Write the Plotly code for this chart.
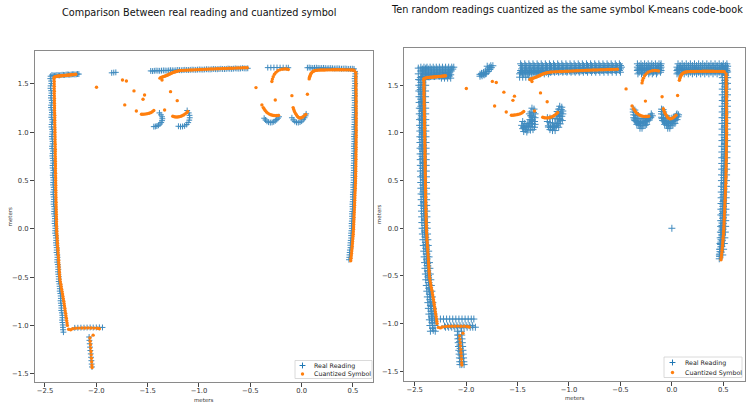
import plotly.graph_objects as go

# ---------------- data (metres) ----------------
# Single real reading (left panel)
REAL_WALL_L_Y = [1.58,1.53,1.48,1.43,1.38,1.33,1.28,1.23,1.18,1.13,1.08,1.03,0.98,0.93,0.88,0.83,0.78,0.73,0.68,0.63,
                 0.58,0.53,0.48,0.43,0.38,0.33,0.28,0.23,0.18,0.13,0.08,0.03,-0.02,-0.07,-0.12,-0.17,-0.22,-0.27,-0.32,-0.37,
                 -0.42,-0.47,-0.52,-0.57,-0.62,-0.67,-0.72,-0.77,-0.82,-0.87,-0.92,-0.97,-1.02,-1.07]
REAL_WALL_L_X = [-2.445,-2.44,-2.445,-2.44,-2.44,-2.435,-2.44,-2.435,-2.435,-2.43,-2.435,-2.43,-2.43,-2.43,-2.425,-2.43,-2.425,-2.425,-2.42,-2.425,
                 -2.42,-2.42,-2.42,-2.415,-2.42,-2.415,-2.415,-2.41,-2.41,-2.405,-2.405,-2.40,-2.40,-2.395,-2.39,-2.39,-2.385,-2.38,-2.38,-2.375,
                 -2.37,-2.37,-2.365,-2.36,-2.355,-2.35,-2.345,-2.345,-2.34,-2.335,-2.33,-2.33,-2.325,-2.32]
REAL_WALL_L2_Y = [1.555,1.505,1.455,1.405,1.355,1.305,1.255,1.205,1.155,1.105,1.055,1.005,0.955,0.905,0.855,0.805,0.755,0.705,
                  0.655,0.605,0.555,0.505,0.455,0.405,0.355,0.305,0.255,0.205,0.155,0.105,0.055,0.005,-0.045,-0.095,-0.145,
                  -0.195,-0.245,-0.295,-0.345,-0.395,-0.445,-0.495,-0.545,-0.595,-0.645,-0.695,-0.745,-0.795,-0.845,-0.895,
                  -0.945,-0.995,-1.045]
REAL_WALL_L2_X = [-2.448,-2.437,-2.446,-2.436,-2.442,-2.433,-2.441,-2.432,-2.438,-2.428,
                  -2.436,-2.427,-2.433,-2.426,-2.431,-2.422,-2.428,-2.421,-2.426,-2.418,
                  -2.424,-2.417,-2.421,-2.414,-2.419,-2.412,-2.416,-2.408,-2.411,-2.403,
                  -2.406,-2.398,-2.401,-2.392,-2.393,-2.386,-2.387,-2.378,-2.381,-2.372,
                  -2.373,-2.366,-2.366,-2.357,-2.356,-2.347,-2.348,-2.341,-2.341,-2.331,
                  -2.333,-2.326,-2.324]
REAL_TOP_L_X = [-2.42,-2.395,-2.37,-2.345,-2.32,-2.295,-2.27,-2.245,-2.22,-2.195,-2.17]
REAL_TOP_L_Y = [1.588,1.589,1.59,1.592,1.594,1.596,1.597,1.598,1.60,1.60,1.602]
REAL_TOP_L2 = [(-2.432,1.592),(-2.408,1.587),(-2.383,1.593),(-2.358,1.589),(-2.333,1.595),(-2.308,1.592),(-2.283,1.598),
               (-2.258,1.595),(-2.233,1.60),(-2.208,1.598),(-2.183,1.603)]
REAL_CLUSTER_X = [-1.85,-1.83,-1.81]
REAL_CLUSTER_Y = [1.615,1.618,1.62]
REAL_TOP_M_X = [-1.47,-1.435,-1.40,-1.365,-1.33,-1.295,-1.26,-1.225,-1.19,-1.155,-1.12,-1.085,-1.05,-1.015,
                -0.98,-0.945,-0.91,-0.875,-0.84,-0.805,-0.77,-0.735,-0.70,-0.665,-0.63,-0.595,-0.56,-0.525]
REAL_TOP_M_Y = [1.635,1.636,1.637,1.638,1.639,1.640,1.641,1.642,1.643,1.644,1.645,1.646,1.647,1.648,
                1.649,1.650,1.651,1.652,1.653,1.654,1.655,1.656,1.657,1.658,1.659,1.660,1.661,1.662]
REAL_TOP_M2 = [(-1.452,1.633),(-1.418,1.638),(-1.383,1.636),(-1.347,1.640),(-1.312,1.638),(-1.278,1.642),(-1.243,1.640),
               (-1.207,1.645),(-1.172,1.642),(-1.138,1.646),(-1.103,1.644),(-1.067,1.648),(-1.032,1.646),(-0.997,1.650),
               (-0.962,1.648),(-0.927,1.652),(-0.892,1.650),(-0.857,1.655),(-0.822,1.652),(-0.787,1.657),(-0.752,1.654),
               (-0.717,1.659),(-0.682,1.656),(-0.647,1.661),(-0.612,1.658),(-0.577,1.663),(-0.542,1.660)]
REAL_TOP_S_X = [-0.33,-0.30,-0.27,-0.24,-0.21,-0.18,-0.15,-0.13]
REAL_TOP_S_Y = [1.669,1.669,1.67,1.67,1.669,1.669,1.668,1.668]
REAL_TOP_R_X = [0.056,0.09,0.125,0.16,0.195,0.23,0.265,0.30,0.335,0.37,0.405,0.44,0.475,0.51]
REAL_TOP_R_Y = [1.668,1.667,1.667,1.666,1.665,1.664,1.663,1.662,1.661,1.660,1.659,1.658,1.657,1.656]
REAL_TOP_R2 = [(0.073,1.670),(0.108,1.665),(0.143,1.668),(0.178,1.664),(0.213,1.666),(0.248,1.662),(0.283,1.664),
               (0.318,1.66),(0.353,1.662),(0.388,1.658),(0.423,1.66),(0.458,1.656),(0.493,1.658)]
REAL_WALL_R_Y = [1.63,1.58,1.53,1.48,1.43,1.38,1.33,1.28,1.23,1.18,1.13,1.08,1.03,0.98,0.93,0.88,0.83,0.78,0.73,0.68,
                 0.63,0.58,0.53,0.48,0.43,0.38,0.33,0.28,0.23,0.18,0.13,0.08,0.03,-0.02,-0.07,-0.12,-0.17,-0.22,-0.27,-0.32]
REAL_WALL_R_X = [0.52,0.52,0.518,0.518,0.517,0.517,0.516,0.516,0.515,0.515,0.514,0.514,0.513,0.512,0.512,0.511,0.511,0.510,0.510,0.509,
                 0.508,0.507,0.506,0.505,0.503,0.501,0.499,0.497,0.495,0.493,0.491,0.489,0.487,0.485,0.482,0.478,0.474,0.470,0.466,0.461]
REAL_WALL_R2_Y = [1.605,1.555,1.505,1.455,1.405,1.355,1.305,1.255,1.205,1.155,1.105,1.055,1.005,0.955,0.905,0.855,0.805,
                  0.755,0.705,0.655,0.605,0.555,0.505,0.455,0.405,0.355,0.305,0.255,0.205,0.155,0.105,0.055,0.005,-0.045,
                  -0.095,-0.145,-0.195,-0.245,-0.295]
REAL_WALL_R2_X = [0.523,0.516,0.521,0.515,0.519,0.514,0.518,0.513,0.517,0.512,
                  0.516,0.511,0.515,0.51,0.514,0.509,0.513,0.508,0.511,0.507,
                  0.509,0.505,0.507,0.502,0.504,0.499,0.501,0.495,0.497,0.491,
                  0.493,0.487,0.489,0.482,0.483,0.476,0.476,0.468,0.464]
REAL_BOT_H_X = [-2.21,-2.18,-2.15,-2.12,-2.09,-2.06,-2.03,-2.00,-1.97,-1.94]
REAL_BOT_H_Y = [-1.025,-1.024,-1.023,-1.023,-1.022,-1.021,-1.022,-1.021,-1.020,-1.021]
REAL_BOT_V_X = [-2.07,-2.067,-2.064,-2.061,-2.058,-2.054,-2.051,-2.048,-2.045,-2.042]
REAL_BOT_V_Y = [-1.12,-1.155,-1.19,-1.225,-1.26,-1.295,-1.33,-1.365,-1.40,-1.43]
REAL_ARC1 = [(-1.385,1.20),(-1.37,1.18),(-1.36,1.16),(-1.357,1.14),(-1.36,1.12),(-1.368,1.10),(-1.38,1.085),
             (-1.395,1.072),(-1.41,1.064),(-1.425,1.06),(-1.44,1.058)]
REAL_ARC2 = [(-1.115,1.225),(-1.10,1.20),(-1.092,1.175),(-1.09,1.15),(-1.095,1.125),(-1.105,1.10),(-1.12,1.08),
             (-1.14,1.066),(-1.16,1.06),(-1.18,1.058),(-1.20,1.062)]
REAL_ARC3 = [(-0.365,1.145),(-0.352,1.127),(-0.338,1.113),(-0.322,1.104),(-0.305,1.10),(-0.288,1.102),(-0.272,1.108),
             (-0.257,1.118),(-0.243,1.131),(-0.23,1.146),(-0.22,1.16)]
REAL_ARC4 = [(-0.095,1.15),(-0.082,1.128),(-0.067,1.112),(-0.05,1.102),(-0.033,1.10),(-0.016,1.105),(0.0,1.115),
             (0.015,1.13),(0.028,1.15),(0.038,1.17),(0.044,1.19)]

# Cuantized symbol (same code-book vector in both panels)
SYM_WALL_L_Y = [1.55,1.50,1.45,1.40,1.35,1.30,1.25,1.20,1.15,1.10,1.05,1.00,0.95,0.90,0.85,0.80,0.75,0.70,0.65,0.60,
                0.55,0.50,0.45,0.40,0.35,0.30,0.25,0.20,0.15,0.10,0.05,0.00,-0.05,-0.10,-0.15,-0.20,-0.25,-0.30,-0.35,-0.40,
                -0.45,-0.50,-0.55,-0.60,-0.65,-0.70,-0.75,-0.80,-0.85,-0.90,-0.95,-1.00,-1.04,-1.045]
SYM_WALL_L_X = [-2.412,-2.41,-2.41,-2.41,-2.408,-2.408,-2.407,-2.406,-2.405,-2.405,-2.404,-2.403,-2.402,-2.402,-2.401,-2.40,-2.40,-2.399,-2.398,-2.398,
                -2.397,-2.396,-2.395,-2.395,-2.394,-2.393,-2.392,-2.391,-2.39,-2.389,-2.388,-2.386,-2.384,-2.381,-2.378,-2.375,-2.372,-2.369,-2.366,-2.363,
                -2.36,-2.357,-2.35,-2.342,-2.333,-2.325,-2.317,-2.31,-2.303,-2.296,-2.289,-2.282,-2.27,-2.25]
SYM_WALL_L2_Y = [1.525,1.475,1.425,1.375,1.325,1.275,1.225,1.175,1.125,1.075,1.025,0.975,0.925,0.875,0.825,0.775,0.725,
                 0.675,0.625,0.575,0.525,0.475,0.425,0.375,0.325,0.275,0.225,0.175,0.125,0.075,0.025,-0.025,-0.075,-0.125,
                 -0.175,-0.225,-0.275,-0.325,-0.375,-0.425,-0.475,-0.525,-0.575,-0.625,-0.675,-0.725,-0.775,-0.825,-0.875,
                 -0.925,-0.975]
SYM_WALL_L2_X = [-2.41,-2.41,-2.409,-2.409,-2.408,-2.407,-2.407,-2.405,-2.405,-2.404,
                 -2.403,-2.403,-2.402,-2.401,-2.40,-2.40,-2.399,-2.398,-2.398,-2.397,
                 -2.396,-2.396,-2.395,-2.394,-2.393,-2.392,-2.391,-2.39,-2.389,-2.388,
                 -2.387,-2.385,-2.382,-2.38,-2.377,-2.373,-2.37,-2.367,-2.364,-2.361,
                 -2.358,-2.354,-2.346,-2.338,-2.329,-2.321,-2.313,-2.306,-2.299,-2.292,
                 -2.285]
SYM_TOP_L_X = [-2.40,-2.38,-2.36,-2.34,-2.32,-2.30,-2.28,-2.26,-2.24,-2.22,-2.20]
SYM_TOP_L_Y = [1.575,1.58,1.583,1.585,1.587,1.589,1.591,1.593,1.595,1.597,1.60]
SYM_TOP_L2 = [(-2.41,1.57),(-2.39,1.578),(-2.37,1.582),(-2.35,1.584),(-2.33,1.586),(-2.31,1.588),(-2.29,1.59),
              (-2.27,1.592),(-2.25,1.594),(-2.23,1.596),(-2.21,1.598)]
SYM_SCATTER = [(-1.998,1.466),(-1.745,1.541),(-1.707,1.53),(-1.633,1.428),(-1.53,1.386),(-1.545,1.342),(-1.723,1.283),
               (-1.61,1.22),(-1.36,1.54),(-1.277,1.42),(-1.212,1.327),(-1.335,1.23),(-0.445,1.462),(-0.257,1.334),
               (-0.095,1.379),(0.056,1.393),(-0.387,1.283),(-2.031,-1.101)]
SYM_ARC1 = [(-1.56,1.186),(-1.545,1.186),(-1.53,1.188),(-1.515,1.19),(-1.50,1.193),(-1.485,1.197),(-1.47,1.203),(-1.455,1.212),(-1.44,1.225)]
SYM_ARC2 = [(-1.255,1.165),(-1.24,1.16),(-1.225,1.158),(-1.21,1.158),(-1.195,1.16),(-1.18,1.164),(-1.165,1.17),(-1.15,1.178),
            (-1.135,1.19),(-1.12,1.203),(-1.11,1.215)]
SYM_ARC3 = [(-0.374,1.255),(-0.365,1.24),(-0.355,1.225),(-0.343,1.21),(-0.33,1.198),(-0.315,1.188),(-0.3,1.181),(-0.285,1.176),
            (-0.27,1.173),(-0.255,1.172),(-0.24,1.173),(-0.225,1.175)]
SYM_ARC4 = [(-0.083,1.255),(-0.077,1.235),(-0.07,1.215),(-0.06,1.195),(-0.05,1.178),(-0.04,1.163),(-0.03,1.153),(-0.018,1.148),
            (-0.005,1.15),(0.01,1.158),(0.025,1.17),(0.04,1.185)]
SYM_TOP_M = [(-1.38,1.56),(-1.36,1.57),(-1.34,1.578),(-1.32,1.586),(-1.30,1.595),(-1.28,1.605),(-1.26,1.615),(-1.24,1.624),
             (-1.22,1.63),(-1.20,1.635),(-1.17,1.64),(-1.13,1.642),(-1.09,1.644),(-1.05,1.646),(-1.01,1.648),(-0.97,1.650),
             (-0.93,1.652),(-0.89,1.654),(-0.85,1.656),(-0.81,1.658),(-0.77,1.660),(-0.73,1.661),(-0.69,1.663),(-0.65,1.664),
             (-0.61,1.666),(-0.57,1.667),(-0.53,1.668)]
SYM_TOP_M2 = [(-1.37,1.566),(-1.35,1.574),(-1.33,1.582),(-1.31,1.59),(-1.29,1.60),(-1.27,1.61),(-1.25,1.62),(-1.23,1.627),
              (-1.21,1.633),(-1.185,1.638),(-1.15,1.641),(-1.11,1.643),(-1.07,1.645),(-1.03,1.647),(-0.99,1.649),(-0.95,1.651),
              (-0.91,1.653),(-0.87,1.655),(-0.83,1.657),(-0.79,1.659),(-0.75,1.66),(-0.71,1.662),(-0.67,1.663),(-0.63,1.665),
              (-0.59,1.666),(-0.55,1.667)]
SYM_TOP_S = [(-0.29,1.525),(-0.285,1.55),(-0.277,1.575),(-0.265,1.60),(-0.25,1.62),(-0.232,1.636),(-0.212,1.646),
             (-0.19,1.652),(-0.168,1.655),(-0.148,1.654),(-0.13,1.65)]
SYM_TOP_R = [(0.073,1.552),(0.08,1.58),(0.09,1.605),(0.105,1.625),(0.125,1.637),(0.15,1.642),(0.18,1.644),(0.21,1.645),
             (0.24,1.646),(0.27,1.646),(0.30,1.647),(0.33,1.647),(0.36,1.647),(0.39,1.647),(0.42,1.646),(0.45,1.646),
             (0.48,1.645),(0.51,1.642)]
SYM_TOP_R2 = [(0.195,1.645),(0.225,1.645),(0.255,1.646),(0.285,1.646),(0.315,1.647),(0.345,1.647),(0.375,1.647),(0.405,1.647),
              (0.435,1.646),(0.465,1.646),(0.495,1.644),(0.165,1.643),(0.137,1.64),(0.115,1.632),(0.097,1.615),(0.085,1.593),
              (0.076,1.566)]
SYM_WALL_R_Y = [1.62,1.57,1.52,1.47,1.42,1.37,1.32,1.27,1.22,1.17,1.12,1.07,1.02,0.97,0.92,0.87,0.82,0.77,0.72,0.67,
                0.62,0.57,0.52,0.47,0.42,0.37,0.32,0.27,0.22,0.17,0.12,0.07,0.02,-0.03,-0.08,-0.13,-0.18,-0.23,-0.28,-0.33]
SYM_WALL_R_X = [0.527,0.528,0.528,0.529,0.529,0.53,0.53,0.53,0.531,0.531,0.531,0.531,0.531,0.531,0.53,0.53,0.53,0.529,0.529,0.528,
                0.527,0.526,0.525,0.524,0.522,0.52,0.518,0.516,0.514,0.512,0.51,0.508,0.506,0.503,0.5,0.496,0.492,0.488,0.483,0.478]
SYM_WALL_R2_Y = [1.595,1.545,1.495,1.445,1.395,1.345,1.295,1.245,1.195,1.145,1.095,1.045,0.995,0.945,0.895,0.845,0.795,
                 0.745,0.695,0.645,0.595,0.545,0.495,0.445,0.395,0.345,0.295,0.245,0.195,0.145,0.095,0.045,-0.005,-0.055,
                 -0.105,-0.155,-0.205,-0.255,-0.305]
SYM_WALL_R2_X = [0.528,0.528,0.529,0.529,0.53,0.53,0.53,0.531,0.531,0.531,
                 0.531,0.531,0.531,0.531,0.53,0.53,0.529,0.529,0.528,0.528,
                 0.527,0.526,0.525,0.523,0.521,0.519,0.517,0.515,0.513,0.511,
                 0.509,0.507,0.505,0.502,0.498,0.494,0.49,0.486,0.481]
SYM_BOT_H_X = [-2.23,-2.20,-2.17,-2.14,-2.11,-2.08,-2.05,-2.02,-1.99,-1.97]
SYM_BOT_H_Y = [-1.035,-1.03,-1.028,-1.027,-1.027,-1.026,-1.027,-1.028,-1.03,-1.035]
SYM_BOT_V_X = [-2.062,-2.06,-2.057,-2.055,-2.052,-2.05,-2.047,-2.045,-2.043,-2.041]
SYM_BOT_V_Y = [-1.13,-1.165,-1.20,-1.235,-1.27,-1.305,-1.34,-1.375,-1.41,-1.435]

# Ten random readings (right panel) - extra readings besides the one above
TEN_WALL_L_Y = [1.68,1.62,1.56,1.50,1.44,1.38,1.32,1.26,1.20,1.14,1.08,1.02,0.96,0.90,0.84,0.78,0.72,0.66,0.60,0.54,
                0.48,0.42,0.36,0.30,0.24,0.18,0.12,0.06,0.00,-0.06,-0.12,-0.18,-0.24,-0.30,-0.36,-0.42,-0.48,-0.54,-0.60,-0.66,
                -0.72,-0.78,-0.84,-0.90,-0.96,-1.02,-1.08]
TEN_WALL_L_XOUT = [-2.465,-2.465,-2.462,-2.46,-2.46,-2.458,-2.457,-2.455,-2.455,-2.453,-2.452,-2.45,
                   -2.45,-2.449,-2.448,-2.447,-2.446,-2.445,-2.444,-2.442,-2.441,-2.44,-2.438,-2.437,
                   -2.436,-2.434,-2.432,-2.43,-2.428,-2.425,-2.42,-2.416,-2.412,-2.408,-2.404,-2.40,
                   -2.396,-2.392,-2.387,-2.382,-2.377,-2.372,-2.367,-2.362,-2.357,-2.352,-2.347]
TEN_WALL_L_XIN = [-2.39,-2.392,-2.393,-2.393,-2.394,-2.394,-2.394,-2.393,-2.393,-2.392,-2.392,-2.391,
                  -2.39,-2.39,-2.389,-2.389,-2.388,-2.388,-2.387,-2.386,-2.386,-2.385,-2.384,-2.384,
                  -2.383,-2.382,-2.381,-2.38,-2.378,-2.375,-2.372,-2.368,-2.364,-2.36,-2.356,-2.352,
                  -2.348,-2.343,-2.338,-2.333,-2.328,-2.323,-2.318,-2.313,-2.308,-2.303,-2.30]
TEN_WALL_L_YMID = [1.65,1.59,1.53,1.47,1.41,1.35,1.29,1.23,1.17,1.11,1.05,0.99,0.93,0.87,0.81,0.75,0.69,0.63,0.57,0.51,
                   0.45,0.39,0.33,0.27,0.21,0.15,0.09,0.03,-0.03,-0.09,-0.15,-0.21,-0.27,-0.33,-0.39,-0.45,-0.51,-0.57,
                   -0.63,-0.69,-0.75,-0.81,-0.87,-0.93,-0.99,-1.05]
TEN_WALL_L_XMID = [-2.428,-2.43,-2.427,-2.426,-2.427,-2.425,-2.425,-2.424,-2.424,-2.422,-2.422,-2.42,
                   -2.42,-2.419,-2.418,-2.418,-2.417,-2.416,-2.415,-2.414,-2.413,-2.412,-2.411,-2.41,
                   -2.41,-2.408,-2.406,-2.405,-2.403,-2.40,-2.396,-2.392,-2.388,-2.384,-2.38,-2.376,
                   -2.372,-2.367,-2.362,-2.357,-2.352,-2.347,-2.342,-2.337,-2.332,-2.326]
TEN_TOP_L_ROWS = [(1.69, [-2.44,-2.41,-2.38,-2.35,-2.32,-2.29,-2.26,-2.23,-2.20,-2.17,-2.14,-2.12]),
                  (1.67, [-2.425,-2.395,-2.365,-2.335,-2.305,-2.275,-2.245,-2.215,-2.185,-2.155,-2.13]),
                  (1.65, [-2.44,-2.41,-2.38,-2.35,-2.32,-2.29,-2.26,-2.23,-2.20,-2.17,-2.145]),
                  (1.63, [-2.425,-2.395,-2.365,-2.335,-2.305,-2.275,-2.245,-2.215,-2.185,-2.16]),
                  (1.61, [-2.41,-2.38,-2.35,-2.32,-2.29,-2.26,-2.23,-2.20,-2.17,-2.15]),
                  (1.595, [-2.225,-2.195,-2.165]),
                  (1.575, [-2.24,-2.21,-2.18,-2.15])]
TEN_CLUSTER = [(-1.865,1.595),(-1.845,1.60),(-1.825,1.61),(-1.805,1.625),(-1.785,1.645),(-1.77,1.665),(-1.755,1.685),
               (-1.74,1.705),(-1.85,1.625),(-1.83,1.635),(-1.81,1.65),(-1.79,1.67),(-1.775,1.69),(-1.76,1.705),
               (-1.865,1.615),(-1.795,1.70)]
TEN_TOP_M_ROWS = [(1.725, [-1.47,-1.43,-1.39,-1.35,-1.31,-1.27,-1.23,-1.19,-1.15,-1.11,-1.07,-1.03,-0.99,-0.95,-0.91,-0.87,-0.83,-0.79,-0.75,-0.71,-0.67,-0.63,-0.59,-0.55,-0.51]),
                  (1.707, [-1.46,-1.42,-1.38,-1.34,-1.30,-1.26,-1.22,-1.18,-1.14,-1.10,-1.06,-1.02,-0.98,-0.94,-0.90,-0.86,-0.82,-0.78,-0.74,-0.70,-0.66,-0.62,-0.58,-0.54,-0.50]),
                  (1.69, [-1.45,-1.41,-1.37,-1.33,-1.29,-1.25,-1.21,-1.17,-1.13,-1.09,-1.05,-1.01,-0.97,-0.93,-0.89,-0.85,-0.81,-0.77,-0.73,-0.69,-0.65,-0.61,-0.57,-0.53,-0.49]),
                  (1.672, [-1.46,-1.42,-1.38,-1.34,-1.30,-1.26,-1.22,-1.18,-1.14,-1.10,-1.06,-1.02,-0.98,-0.94,-0.90,-0.86,-0.82,-0.78,-0.74,-0.70,-0.66,-0.62,-0.58,-0.54,-0.50]),
                  (1.655, [-1.47,-1.43,-1.39,-1.35,-1.31,-1.27,-1.23,-1.19,-1.15,-1.11,-1.07,-1.03,-0.99,-0.95,-0.91,-0.87,-0.83,-0.79,-0.75,-0.71,-0.67,-0.63,-0.59,-0.55,-0.51]),
                  (1.637, [-1.46,-1.42,-1.38,-1.34,-1.30,-1.26,-1.22,-1.18,-1.14,-1.10,-1.06,-1.02,-0.98,-0.94,-0.90,-0.86,-0.82,-0.78,-0.74,-0.70,-0.66,-0.62,-0.58,-0.54,-0.50]),
                  (1.62, [-1.48,-1.44,-1.40,-1.36,-1.32,-1.28,-1.24,-1.20]),
                  (1.585, [-1.48,-1.45,-1.42,-1.39])]
TEN_TOP_S_ROWS = [(1.725, [-0.335,-0.30,-0.265,-0.23,-0.195,-0.16,-0.125,-0.105]),
                  (1.707, [-0.318,-0.283,-0.248,-0.213,-0.178,-0.143,-0.11]),
                  (1.69, [-0.335,-0.30,-0.265,-0.23,-0.195,-0.16,-0.125,-0.105]),
                  (1.672, [-0.318,-0.283,-0.248,-0.213,-0.178,-0.143,-0.11]),
                  (1.655, [-0.335,-0.30,-0.265,-0.23,-0.195,-0.16,-0.125,-0.105]),
                  (1.637, [-0.318,-0.283,-0.248,-0.213,-0.178,-0.143,-0.11]),
                  (1.62, [-0.33,-0.295,-0.26,-0.225,-0.19,-0.15])]
TEN_TOP_R_ROWS = [(1.725, [0.06,0.10,0.14,0.18,0.22,0.26,0.30,0.34,0.38,0.42,0.46,0.50,0.535]),
                  (1.707, [0.08,0.12,0.16,0.20,0.24,0.28,0.32,0.36,0.40,0.44,0.48,0.52]),
                  (1.69, [0.05,0.08,0.12,0.16,0.20,0.24,0.28,0.32,0.36,0.40,0.44,0.48,0.52]),
                  (1.672, [0.07,0.10,0.14,0.18,0.22,0.26,0.30,0.34,0.38,0.42,0.46,0.50,0.535]),
                  (1.655, [0.05,0.10,0.14,0.18,0.22,0.26,0.30,0.34,0.38,0.42,0.46,0.50,0.535]),
                  (1.637, [0.06,0.09,0.14,0.18,0.22,0.26,0.30,0.34,0.38,0.42,0.46,0.50,0.53]),
                  (1.62, [0.05,0.07,0.12,0.16,0.20,0.24,0.28,0.32,0.36,0.40,0.44,0.48,0.52])]
TEN_WALL_R_Y = [1.70,1.64,1.58,1.52,1.46,1.40,1.34,1.28,1.22,1.16,1.10,1.04,0.98,0.92,0.86,0.80,0.74,0.68,0.62,0.56,
                0.50,0.44,0.38,0.32,0.26,0.20,0.14,0.08,0.02,-0.04,-0.10,-0.16,-0.22,-0.28]
TEN_WALL_R_XOUT = [0.542,0.542,0.542,0.541,0.541,0.541,0.54,0.54,0.54,0.539,0.539,0.538,
                   0.538,0.537,0.537,0.536,0.535,0.534,0.533,0.532,0.531,0.53,0.529,0.528,
                   0.527,0.526,0.525,0.524,0.523,0.52,0.515,0.51,0.503,0.495]
TEN_WALL_R_XIN = [0.492,0.492,0.491,0.491,0.49,0.49,0.49,0.489,0.489,0.488,0.488,0.488,
                  0.487,0.487,0.486,0.486,0.485,0.485,0.484,0.483,0.482,0.481,0.48,0.479,
                  0.478,0.477,0.476,0.475,0.474,0.472,0.47,0.468,0.465,0.462]
TEN_WALL_R_YMID = [1.67,1.61,1.55,1.49,1.43,1.37,1.31,1.25,1.19,1.13,1.07,1.01,0.95,0.89,0.83,0.77,0.71,0.65,0.59,0.53,
                   0.47,0.41,0.35,0.29,0.23,0.17,0.11,0.05,-0.01,-0.07,-0.13,-0.19,-0.25]
TEN_WALL_R_XMID = [0.517,0.517,0.516,0.516,0.516,0.515,0.515,0.515,0.514,0.514,0.513,0.513,
                   0.512,0.512,0.511,0.511,0.51,0.509,0.508,0.507,0.506,0.505,0.504,0.503,
                   0.502,0.501,0.50,0.498,0.496,0.493,0.49,0.486,0.48]
TEN_BLOB1 = [(-1.36,1.26),(-1.34,1.25),(-1.37,1.22),(-1.345,1.215),(-1.33,1.20),(-1.37,1.18),(-1.35,1.17),(-1.33,1.16),
             (-1.38,1.14),(-1.36,1.13),(-1.335,1.12),(-1.45,1.12),(-1.43,1.10),(-1.40,1.10),(-1.38,1.105),(-1.355,1.10),
             (-1.33,1.09),(-1.46,1.08),(-1.44,1.07),(-1.415,1.07),(-1.39,1.07),(-1.36,1.065),(-1.335,1.06),(-1.45,1.045),
             (-1.425,1.035),(-1.40,1.03),(-1.375,1.03),(-1.35,1.035),(-1.44,1.015),(-1.41,1.01)]
TEN_BLOB2 = [(-1.09,1.28),(-1.07,1.27),(-1.10,1.25),(-1.075,1.245),(-1.06,1.23),(-1.105,1.22),(-1.08,1.21),(-1.06,1.20),
             (-1.12,1.19),(-1.095,1.18),(-1.07,1.175),(-1.21,1.16),(-1.185,1.155),(-1.16,1.15),(-1.135,1.15),(-1.11,1.145),
             (-1.085,1.14),(-1.065,1.13),(-1.21,1.12),(-1.185,1.11),(-1.16,1.105),(-1.135,1.10),(-1.11,1.10),(-1.085,1.095),
             (-1.20,1.075),(-1.175,1.065),(-1.15,1.06),(-1.125,1.06),(-1.10,1.06),(-1.185,1.035),(-1.16,1.025),(-1.135,1.025)]
TEN_BLOB3 = [(-0.375,1.25),(-0.36,1.24),(-0.375,1.22),(-0.355,1.215),(-0.37,1.19),(-0.35,1.185),(-0.33,1.18),(-0.20,1.20),
             (-0.19,1.18),(-0.21,1.175),(-0.37,1.16),(-0.35,1.155),(-0.33,1.15),(-0.31,1.15),(-0.29,1.15),(-0.27,1.15),
             (-0.25,1.155),(-0.23,1.16),(-0.205,1.16),(-0.36,1.13),(-0.34,1.12),(-0.32,1.115),(-0.30,1.115),(-0.28,1.115),
             (-0.26,1.12),(-0.24,1.125),(-0.22,1.135),(-0.34,1.09),(-0.32,1.08),(-0.30,1.075),(-0.28,1.075),(-0.26,1.08),
             (-0.245,1.09),(-0.31,1.05),(-0.29,1.05)]
TEN_BLOB4 = [(-0.10,1.25),(-0.085,1.245),(-0.10,1.225),(-0.08,1.22),(-0.10,1.20),(-0.08,1.195),(-0.06,1.185),(0.05,1.20),
             (0.065,1.19),(0.045,1.18),(-0.10,1.165),(-0.08,1.16),(-0.06,1.155),(-0.04,1.15),(-0.02,1.15),(0.0,1.155),
             (0.02,1.16),(0.04,1.165),(0.06,1.17),(-0.09,1.13),(-0.07,1.125),(-0.05,1.12),(-0.03,1.115),(-0.01,1.115),
             (0.01,1.12),(0.03,1.13),(0.05,1.14),(-0.07,1.09),(-0.05,1.08),(-0.03,1.075),(-0.01,1.075),(0.01,1.085),
             (0.03,1.10),(-0.04,1.05),(-0.02,1.05)]
TEN_BOT_H_ROWS = [(-0.952, [-2.25,-2.22,-2.19,-2.16,-2.13,-2.10,-2.07,-2.04,-2.01,-1.98,-1.95,-1.925]),
                  (-1.038, [-2.20,-2.17,-2.14,-2.11,-2.08,-2.05,-2.02,-1.99,-1.96,-1.935,-1.91])]
TEN_BOT_V_Y = [-1.08,-1.12,-1.16,-1.20,-1.24,-1.28,-1.32,-1.36,-1.40,-1.43]
TEN_BOT_V_XA = [-2.085,-2.083,-2.08,-2.077,-2.074,-2.071,-2.068,-2.065,-2.062,-2.06]
TEN_BOT_V_XB = [-2.045,-2.043,-2.04,-2.037,-2.034,-2.031,-2.028,-2.025,-2.022,-2.02]
TEN_ORIGIN = [(0.0, 0.0)]

TICKS = [-2.5, -2.0, -1.5, -1.0, -0.5, 0.0, 0.5]
YTICKS = [-1.5, -1.0, -0.5, 0.0, 0.5, 1.0, 1.5]
TITLE_LEFT = "Comparison Between real reading and cuantized symbol"
TITLE_RIGHT = "Ten random readings cuantized as the same symbol K-means code-book"
LEGEND_NAMES = ["Real Reading", "Cuantized Symbol"]

# ---------------- assemble ----------------
def pairs(*lists):
    xs, ys = [], []
    for lst in lists:
        for x, y in lst:
            xs.append(x); ys.append(y)
    return xs, ys

def rows(*row_sets):
    xs, ys = [], []
    for rs in row_sets:
        for y, xl in rs:
            xs += xl; ys += [y] * len(xl)
    return xs, ys

real_x = (REAL_WALL_L_X + REAL_WALL_L2_X + REAL_TOP_L_X + REAL_CLUSTER_X + REAL_TOP_M_X + REAL_TOP_S_X + REAL_TOP_R_X
          + REAL_WALL_R_X + REAL_WALL_R2_X + REAL_BOT_H_X + REAL_BOT_V_X)
real_y = (REAL_WALL_L_Y + REAL_WALL_L2_Y + REAL_TOP_L_Y + REAL_CLUSTER_Y + REAL_TOP_M_Y + REAL_TOP_S_Y + REAL_TOP_R_Y
          + REAL_WALL_R_Y + REAL_WALL_R2_Y + REAL_BOT_H_Y + REAL_BOT_V_Y)
ax_, ay_ = pairs(REAL_ARC1, REAL_ARC2, REAL_ARC3, REAL_ARC4, REAL_TOP_L2, REAL_TOP_M2, REAL_TOP_R2)
real_x += ax_; real_y += ay_

sym_x = SYM_WALL_L_X + SYM_WALL_L2_X + SYM_TOP_L_X + SYM_WALL_R_X + SYM_WALL_R2_X + SYM_BOT_H_X + SYM_BOT_V_X
sym_y = SYM_WALL_L_Y + SYM_WALL_L2_Y + SYM_TOP_L_Y + SYM_WALL_R_Y + SYM_WALL_R2_Y + SYM_BOT_H_Y + SYM_BOT_V_Y
sx_, sy_ = pairs(SYM_SCATTER, SYM_ARC1, SYM_ARC2, SYM_ARC3, SYM_ARC4, SYM_TOP_M, SYM_TOP_M2, SYM_TOP_S,
                 SYM_TOP_R, SYM_TOP_R2, SYM_TOP_L2)
sym_x += sx_; sym_y += sy_

ten_x = (list(real_x) + TEN_WALL_L_XOUT + TEN_WALL_L_XIN + TEN_WALL_L_XMID + TEN_WALL_R_XOUT + TEN_WALL_R_XIN
         + TEN_WALL_R_XMID + TEN_BOT_V_XA + TEN_BOT_V_XB)
ten_y = (list(real_y) + TEN_WALL_L_Y * 2 + TEN_WALL_L_YMID + TEN_WALL_R_Y * 2 + TEN_WALL_R_YMID + TEN_BOT_V_Y * 2)
rx_, ry_ = rows(TEN_TOP_L_ROWS, TEN_TOP_M_ROWS, TEN_TOP_S_ROWS, TEN_TOP_R_ROWS, TEN_BOT_H_ROWS)
ten_x += rx_; ten_y += ry_
px_, py_ = pairs(TEN_CLUSTER, TEN_BLOB1, TEN_BLOB2, TEN_BLOB3, TEN_BLOB4, TEN_ORIGIN)
ten_x += px_; ten_y += py_

BLUE = "#1f77b4"
ORANGE = "#ff7f0e"
W, H = 748, 404

blue_marker = dict(symbol="cross-thin", size=4.2, color=BLUE, line=dict(width=1, color=BLUE))
orange_marker = dict(symbol="circle", size=3.4, color=ORANGE, line=dict(width=0))

fig = go.Figure()
fig.add_trace(go.Scatter(x=real_x, y=real_y, mode="markers", marker=blue_marker, opacity=0.85,
                         xaxis="x", yaxis="y", showlegend=False))
fig.add_trace(go.Scatter(x=sym_x, y=sym_y, mode="markers", marker=orange_marker,
                         xaxis="x", yaxis="y", showlegend=False))
fig.add_trace(go.Scatter(x=ten_x, y=ten_y, mode="markers", marker=dict(blue_marker, size=5), opacity=0.85,
                         xaxis="x2", yaxis="y2", showlegend=False))
fig.add_trace(go.Scatter(x=sym_x, y=sym_y, mode="markers", marker=orange_marker,
                         xaxis="x2", yaxis="y2", showlegend=False))

# legend glyphs on a pixel-space overlay axis
LEG = [dict(box=(295, 360.5, 372, 378.5), mx=302.5, rows=(365.5, 374), tx=312),
       dict(box=(664, 357, 742, 377.5), mx=672.5, rows=(362.5, 372.5), tx=683)]
fig.add_trace(go.Scatter(x=[l["mx"] for l in LEG], y=[l["rows"][0] for l in LEG], mode="markers",
                         marker=blue_marker, xaxis="x3", yaxis="y3", showlegend=False, hoverinfo="skip"))
fig.add_trace(go.Scatter(x=[l["mx"] for l in LEG], y=[l["rows"][1] for l in LEG], mode="markers",
                         marker=orange_marker, xaxis="x3", yaxis="y3", showlegend=False, hoverinfo="skip"))

shapes, annotations = [], []
for l in LEG:
    x0, y0, x1, y1 = l["box"]
    shapes.append(dict(type="rect", xref="x3", yref="y3", x0=x0, y0=y0, x1=x1, y1=y1,
                       line=dict(color="#d0d0d0", width=0.8), fillcolor="white", layer="below"))
    for name, ry in zip(LEGEND_NAMES, l["rows"]):
        annotations.append(dict(text=name, xref="x3", yref="y3", x=l["tx"], y=ry, xanchor="left",
                                yanchor="middle", showarrow=False, font=dict(size=6.3, color="#222")))

annotations += [
    dict(text=TITLE_LEFT, xref="x3", yref="y3", x=198.5, y=12, showarrow=False, xanchor="center",
         yanchor="middle", font=dict(size=9.7, color="#111")),
    dict(text=TITLE_RIGHT, xref="x3", yref="y3", x=567, y=9.5, showarrow=False, xanchor="center",
         yanchor="middle", font=dict(size=9.7, color="#111")),
    dict(text="meters", xref="x3", yref="y3", x=204, y=399.5, showarrow=False, font=dict(size=5.5, color="#333")),
    dict(text="meters", xref="x3", yref="y3", x=575, y=397.5, showarrow=False, font=dict(size=5.5, color="#333")),
    dict(text="meters", xref="x3", yref="y3", x=9.5, y=217, showarrow=False, textangle=-90, font=dict(size=5.5, color="#333")),
    dict(text="meters", xref="x3", yref="y3", x=379, y=214, showarrow=False, textangle=-90, font=dict(size=5.5, color="#333")),
]

axis_common = dict(showgrid=False, zeroline=False, showline=True, mirror=True, linecolor="#8a8a8a", linewidth=1,
                   ticks="outside", ticklen=3.5, tickwidth=0.8, tickcolor="#444", tickformat=".1f",
                   tickfont=dict(size=6.8, color="#333", family="DejaVu Sans"), fixedrange=True)

fig.update_layout(
    width=W, height=H, margin=dict(l=0, r=0, t=0, b=0),
    paper_bgcolor="white", plot_bgcolor="rgba(0,0,0,0)",
    font=dict(family="DejaVu Sans"),
    xaxis=dict(axis_common, domain=[34.5 / W, 372.5 / W], range=[-2.602, 0.690], tickvals=TICKS, anchor="y",
               ticklabelstandoff=-2),
    yaxis=dict(axis_common, domain=[1 - 382.3 / H, 1 - 51.3 / H], range=[-1.589, 1.838], tickvals=YTICKS, anchor="x"),
    xaxis2=dict(axis_common, domain=[404.3 / W, 745 / W], range=[-2.601, 0.711], tickvals=TICKS, anchor="y2",
                ticklabelstandoff=-2),
    yaxis2=dict(axis_common, domain=[1 - 381 / H, 1 - 48.3 / H], range=[-1.602, 1.888], tickvals=YTICKS, anchor="x2"),
    xaxis3=dict(domain=[0, 1], range=[0, W], visible=False, fixedrange=True, anchor="y3"),
    yaxis3=dict(domain=[0, 1], range=[H, 0], visible=False, fixedrange=True, anchor="x3"),
    shapes=shapes, annotations=annotations, showlegend=False,
)

fig.write_html("out.html", config={"displayModeBar": False},
               post_script="document.body.style.margin='0';document.body.style.overflow='hidden';")
